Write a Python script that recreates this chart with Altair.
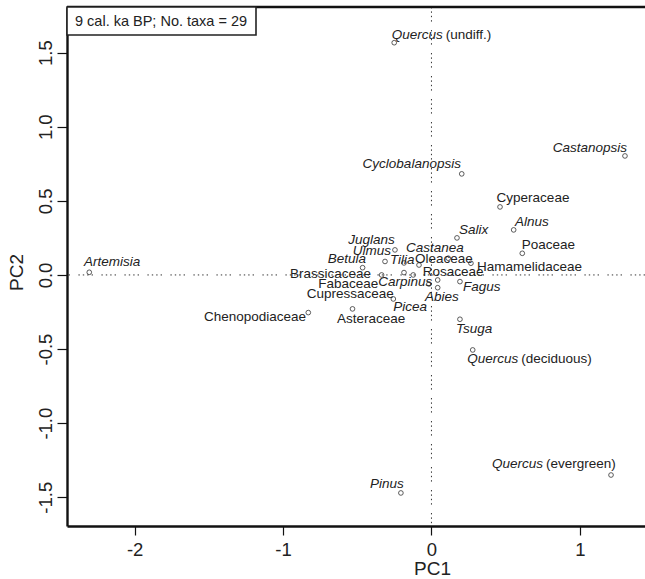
import altair as alt
import pandas as pd

# Taxon names: italic genus part and upright part (family name or qualifier)
genus = ["Quercus", "Castanopsis", "Cyclobalanopsis", "", "Alnus", "Salix", "",
         "Juglans", "Castanea", "Ulmus", "Tilia", "", "", "Betula", "", "", "",
         "Carpinus", "Fagus", "", "Abies", "Picea", "", "", "Tsuga", "Quercus",
         "Pinus", "Quercus", "Artemisia"]
upright = ["(undiff.)", "", "", "Cyperaceae", "", "", "Poaceae",
           "", "", "", "", "Oleaceae", "Hamamelidaceae", "", "Brassicaceae", "Rosaceae", "Fabaceae",
           "", "", "Cupressaceae", "", "", "Chenopodiaceae", "Asteraceae", "", "(deciduous)",
           "", "(evergreen)", ""]

# Taxon scores on the first two principal components
pc1 = [-0.251, 1.304, 0.204, 0.462, 0.554, 0.172, 0.612,
       -0.185, 0.113, -0.246, -0.313, -0.084, 0.266, -0.464, -0.336, 0.042, -0.185,
       -0.017, 0.192, -0.123, 0.042, -0.257, -0.830, -0.532, 0.192, 0.278,
       -0.206, 1.210, -2.306]
pc2 = [1.567, 0.803, 0.682, 0.459, 0.304, 0.250, 0.146,
       0.081, 0.113, 0.169, 0.091, 0.067, 0.079, 0.049, 0.000, -0.034, 0.016,
       -0.061, -0.045, 0.000, -0.086, -0.162, -0.254, -0.229, -0.299, -0.506,
       -1.471, -1.350, 0.018]

# Label anchors (left edge, vertical centre) in PC units
label_pc1 = [-0.268, 0.817, -0.464, 0.439, 0.563, 0.185, 0.608,
             -0.561, -0.172, -0.531, -0.280, -0.111, 0.307, -0.699, -0.954, -0.059, -0.763,
             -0.358, 0.212, -0.841, -0.044, -0.257, -1.533, -0.637, 0.165, 0.241,
             -0.414, 0.408, -2.342]
label_pc2 = [1.619, 0.859, 0.747, 0.520, 0.359, 0.304, 0.202,
             0.236, 0.180, 0.164, 0.101, 0.106, 0.056, 0.106, 0.005, 0.022, -0.063,
             -0.049, -0.083, -0.130, -0.146, -0.218, -0.285, -0.297, -0.366, -0.569,
             -1.410, -1.277, 0.090]

x_ticks = [-2, -1, 0, 1]
y_ticks = [-1.5, -1.0, -0.5, 0.0, 0.5, 1.0, 1.5]
x_domain = [-2.456, 1.439]
y_domain = [-1.694, 1.808]
age_text = "9 cal. ka BP"

W, H = 578, 519
FONT = "Liberation Sans"
INK = "#222222"

df = pd.DataFrame({
    "genus": genus, "upright": upright,
    "pc1": pc1, "pc2": pc2,
    "lx": label_pc1, "ly": label_pc2,
})

xs = alt.Scale(domain=x_domain, nice=False, zero=False)
ys = alt.Scale(domain=y_domain, nice=False, zero=False)

base = alt.Chart(df)

points = base.mark_point(shape="circle", size=22, filled=False, stroke="#333333",
                         strokeWidth=0.8, opacity=1).encode(
    x=alt.X("pc1:Q", scale=xs, title="PC1",
            axis=alt.Axis(values=x_ticks, tickSize=9, labelPadding=5,
                          titleX=365, titleY=33, titleBaseline="top",
                          labelExpr="(datum.value < 0 ? '-' : '') + format(abs(datum.value), 'd')")),
    y=alt.Y("pc2:Q", scale=ys, title="PC2",
            axis=alt.Axis(values=y_ticks, tickSize=10, labelAngle=270, labelAlign="center",
                          labelBaseline="alphabetic", labelPadding=6, titlePadding=10,
                          titleY=265,
                          labelExpr="(datum.value < 0 ? '-' : '') + format(abs(datum.value), '.1f')")),
)

txt = dict(align="left", baseline="middle", font=FONT, fontSize=13.5, color=INK)

italic = base.transform_filter("datum.genus != ''").mark_text(fontStyle="italic", **txt).encode(
    x=alt.X("lx:Q", scale=xs), y=alt.Y("ly:Q", scale=ys), text="genus:N")
after_genus = base.transform_filter("datum.genus != '' && datum.upright != ''").mark_text(
    dx=54, **txt).encode(x=alt.X("lx:Q", scale=xs), y=alt.Y("ly:Q", scale=ys), text="upright:N")
family = base.transform_filter("datum.genus == ''").mark_text(**txt).encode(
    x=alt.X("lx:Q", scale=xs), y=alt.Y("ly:Q", scale=ys), text="upright:N")

origin = pd.DataFrame({"zero": [0.0]})
dash = [1.4, 3, 1.4, 3, 1.4, 3, 1.4, 8.4]
vline = alt.Chart(origin).mark_rule(color="#333333", strokeWidth=1, strokeDash=dash).encode(
    x=alt.X("zero:Q", scale=xs))
hline = alt.Chart(origin).mark_rule(color="#333333", strokeWidth=1, strokeDash=dash).encode(
    y=alt.Y("zero:Q", scale=ys))

# top edge of the plot frame (left and bottom come from the axis lines)
top_edge = alt.Chart(origin).mark_rule(color="#111111", strokeWidth=2.4).encode(
    x=alt.value(0), x2=alt.value(W), y=alt.value(0))

legend_df = pd.DataFrame({"label": [f"{age_text}; No. taxa = {len(genus)}"]})
legend_box = alt.Chart(legend_df).mark_rect(fill="white", stroke="#222222", strokeWidth=1.6).encode(
    x=alt.value(0), x2=alt.value(189), y=alt.value(0), y2=alt.value(28))
legend_text = alt.Chart(legend_df).mark_text(align="left", baseline="middle", font=FONT,
                                             fontSize=14.5, color=INK).encode(
    x=alt.value(8), y=alt.value(15), text="label:N")

chart = alt.layer(vline, hline, points, italic, after_genus, family, top_edge,
                  legend_box, legend_text).properties(
    width=W, height=H,
    autosize=alt.AutoSizeParams(type="none"),
    padding={"left": 67, "top": 7, "right": 0, "bottom": 53},
).configure_view(stroke=None).configure_axis(
    grid=False, domainColor="#111111", domainWidth=2.4, tickColor="#111111", tickWidth=1.2,
    labelFont=FONT, labelFontSize=18.5, labelColor=INK,
    titleFont=FONT, titleFontSize=19, titleFontWeight="normal", titleColor=INK,
)

chart.save("out.html", embed_options={"renderer": "svg", "actions": False})
